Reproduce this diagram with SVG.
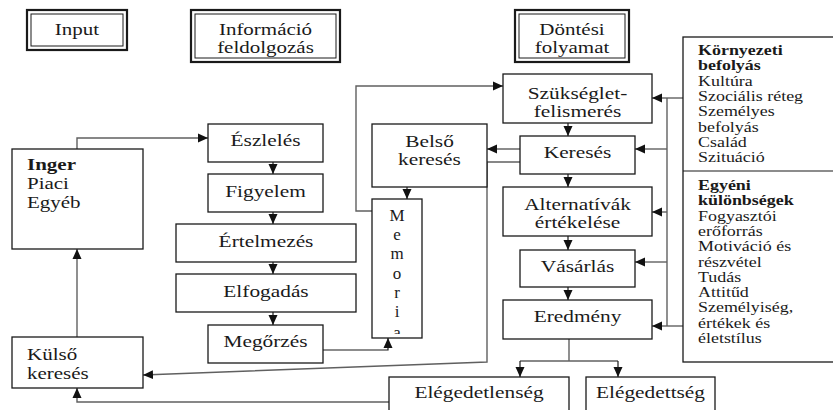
<svg xmlns="http://www.w3.org/2000/svg" width="833" height="410" viewBox="0 0 833 410">
  <style>
    .box { fill: #fff; stroke: #1a1a1a; stroke-width: 1.3; }
    .outer { fill: #fff; stroke: #1a1a1a; stroke-width: 2.2; }
    .inner { fill: none; stroke: #1a1a1a; stroke-width: 1; }
    text { font-family: 'Liberation Serif', 'DejaVu Serif', serif; fill: #1a1a1a; }
    .t { font-size: 17.5px; text-anchor: middle; }
    .tl { font-size: 17.5px; }
    .p { font-size: 13.8px; }
    .b { font-weight: bold; }
    .m { font-size: 17px; text-anchor: middle; }
    .c { fill: none; stroke: #1a1a1a; stroke-width: 1.2; }
    .g { fill: none; stroke: #606060; stroke-width: 1.4; }
  </style>
  <defs>
    <marker id="ah" markerUnits="userSpaceOnUse" markerWidth="10" markerHeight="10" viewBox="0 0 10 10" refX="10" refY="5" orient="auto">
      <path d="M0,0.5 L10,5 L0,9.5 Z" fill="#111"/>
    </marker>
    <clipPath id="memclip">
      <rect x="372" y="199" width="50" height="135"/>
    </clipPath>
  </defs>

  <rect width="833" height="410" fill="#fff"/>

  <!-- column headings (double frames) -->
  <g id="input-head">
    <rect class="outer" x="27" y="10" width="100" height="40"/>
    <rect class="inner" x="31" y="14" width="92" height="32"/>
    <text class="t" transform="translate(77 35) scale(1.2 1)">Input</text>
  </g>
  <g id="info-head">
    <rect class="outer" x="191" y="10" width="149" height="52"/>
    <rect class="inner" x="195" y="14" width="141" height="44"/>
    <text class="t" transform="translate(265.5 35) scale(1.2 1)">Információ</text>
    <text class="t" transform="translate(265.5 53) scale(1.2 1)">feldolgozás</text>
  </g>
  <g id="decision-head">
    <rect class="outer" x="515" y="10" width="114" height="52"/>
    <rect class="inner" x="519" y="14" width="106" height="44"/>
    <text class="t" transform="translate(572 35) scale(1.2 1)">Döntési</text>
    <text class="t" transform="translate(572 53) scale(1.2 1)">folyamat</text>
  </g>

  <!-- connectors -->
  <g id="connectors">
    <!-- perception chain -->
    <polyline class="g" points="77,149 77,138 208,138" marker-end="url(#ah)"/>
    <line class="c" x1="273" y1="162" x2="273" y2="174" marker-end="url(#ah)"/>
    <line class="c" x1="273" y1="212" x2="273" y2="224" marker-end="url(#ah)"/>
    <line class="c" x1="273" y1="262" x2="273" y2="274" marker-end="url(#ah)"/>
    <line class="c" x1="273" y1="312" x2="273" y2="325" marker-end="url(#ah)"/>
    <polyline class="c" points="323,350 388,350 388,338" marker-end="url(#ah)"/>
    <!-- memory feeds need recognition -->
    <polyline class="g" points="372,211 356,211 356,86 503,86" marker-end="url(#ah)"/>
    <line class="c" x1="407" y1="187" x2="407" y2="199" marker-end="url(#ah)"/>
    <!-- decision chain -->
    <line class="c" x1="568" y1="123" x2="568" y2="136" marker-end="url(#ah)"/>
    <line class="c" x1="520" y1="149" x2="487" y2="149" marker-end="url(#ah)"/>
    <polyline class="g" points="520,162 487,162 487,362 143,375" marker-end="url(#ah)"/>
    <line class="c" x1="568" y1="174" x2="568" y2="187" marker-end="url(#ah)"/>
    <line class="c" x1="568" y1="236" x2="568" y2="250" marker-end="url(#ah)"/>
    <line class="c" x1="568" y1="287" x2="568" y2="300" marker-end="url(#ah)"/>
    <!-- outcome split -->
    <line class="g" x1="569" y1="339" x2="569" y2="361"/>
    <line class="g" x1="520" y1="361" x2="618" y2="361"/>
    <line class="c" x1="520" y1="361" x2="520" y2="377" marker-end="url(#ah)"/>
    <line class="c" x1="618" y1="361" x2="618" y2="377" marker-end="url(#ah)"/>
    <!-- dissatisfaction loops back to external search -->
    <polyline class="g" points="389,402 77,402 77,388" marker-end="url(#ah)"/>
    <line class="g" x1="77" y1="337" x2="77" y2="249" marker-end="url(#ah)"/>
    <!-- influences bus -->
    <line class="g" x1="683" y1="98" x2="652" y2="98" marker-end="url(#ah)"/>
    <line class="g" x1="683" y1="326" x2="652" y2="326" marker-end="url(#ah)"/>
    <line class="g" x1="667" y1="98" x2="667" y2="326"/>
    <line class="g" x1="667" y1="149" x2="635" y2="149" marker-end="url(#ah)"/>
    <line class="g" x1="667" y1="212" x2="652" y2="212" marker-end="url(#ah)"/>
    <line class="g" x1="667" y1="262" x2="635" y2="262" marker-end="url(#ah)"/>
  </g>

  <!-- input column -->
  <g id="inger">
    <rect class="box" x="12" y="149" width="131" height="100"/>
    <text class="tl b" transform="translate(27 170) scale(1.2 1)">Inger</text>
    <text class="tl" transform="translate(27 189) scale(1.2 1)">Piaci</text>
    <text class="tl" transform="translate(27 208) scale(1.2 1)">Egyéb</text>
  </g>
  <g id="kulso-kereses">
    <rect class="box" x="12" y="337" width="131" height="51"/>
    <text class="tl" transform="translate(27 360) scale(1.2 1)">Külső</text>
    <text class="tl" transform="translate(27 379) scale(1.2 1)">keresés</text>
  </g>

  <!-- information processing column -->
  <g id="eszleles">
    <rect class="box" x="208" y="124" width="115" height="38"/>
    <text class="t" transform="translate(265.5 146) scale(1.22 1)">Észlelés</text>
  </g>
  <g id="figyelem">
    <rect class="box" x="208" y="174" width="115" height="38"/>
    <text class="t" transform="translate(265.5 197) scale(1.22 1)">Figyelem</text>
  </g>
  <g id="ertelmezes">
    <rect class="box" x="176" y="224" width="180" height="38"/>
    <text class="t" transform="translate(266 247) scale(1.22 1)">Értelmezés</text>
  </g>
  <g id="elfogadas">
    <rect class="box" x="176" y="274" width="180" height="38"/>
    <text class="t" transform="translate(266 297) scale(1.22 1)">Elfogadás</text>
  </g>
  <g id="megorzes">
    <rect class="box" x="208" y="325" width="115" height="38"/>
    <text class="t" transform="translate(265.5 347) scale(1.22 1)">Megőrzés</text>
  </g>
  <g id="belso-kereses">
    <rect class="box" x="372" y="124" width="115" height="63"/>
    <text class="t" transform="translate(429.5 147) scale(1.22 1)">Belső</text>
    <text class="t" transform="translate(429.5 165) scale(1.22 1)">keresés</text>
  </g>
  <g id="memoria">
    <rect class="box" x="372" y="199" width="50" height="139"/>
    <g clip-path="url(#memclip)">
      <text class="m" x="397" y="221">M</text>
      <text class="m" x="397" y="240">e</text>
      <text class="m" x="397" y="259">m</text>
      <text class="m" x="397" y="279">o</text>
      <text class="m" x="397" y="298">r</text>
      <text class="m" x="397" y="317">i</text>
      <text class="m" x="397" y="338">a</text>
    </g>
  </g>

  <!-- decision process column -->
  <g id="szukseglet">
    <rect class="box" x="503" y="74" width="149" height="49"/>
    <text class="t" transform="translate(577.5 99) scale(1.22 1)">Szükséglet-</text>
    <text class="t" transform="translate(577.5 117) scale(1.22 1)">felismerés</text>
  </g>
  <g id="kereses">
    <rect class="box" x="520" y="136" width="115" height="38"/>
    <text class="t" transform="translate(577.5 158) scale(1.22 1)">Keresés</text>
  </g>
  <g id="alternativak">
    <rect class="box" x="503" y="187" width="149" height="49"/>
    <text class="t" transform="translate(577.5 210) scale(1.22 1)">Alternatívák</text>
    <text class="t" transform="translate(577.5 228) scale(1.22 1)">értékelése</text>
  </g>
  <g id="vasarlas">
    <rect class="box" x="520" y="250" width="115" height="37"/>
    <text class="t" transform="translate(577.5 272) scale(1.22 1)">Vásárlás</text>
  </g>
  <g id="eredmeny">
    <rect class="box" x="503" y="300" width="149" height="39"/>
    <text class="t" transform="translate(577.5 322) scale(1.22 1)">Eredmény</text>
  </g>
  <g id="elegedetlenseg">
    <rect class="box" x="389" y="377" width="180" height="40"/>
    <text class="t" transform="translate(479 398) scale(1.22 1)">Elégedetlenség</text>
  </g>
  <g id="elegedettseg">
    <rect class="box" x="586" y="377" width="129" height="40"/>
    <text class="t" transform="translate(650.5 398) scale(1.22 1)">Elégedettség</text>
  </g>

  <!-- influences panel -->
  <g id="befolyasok">
    <rect class="box" x="683" y="37" width="160" height="325"/>
    <line class="c" x1="683" y1="171" x2="833" y2="171"/>
    <text class="p b" transform="translate(698 55) scale(1.3 1)">Környezeti</text>
    <text class="p b" transform="translate(698 70.3) scale(1.3 1)">befolyás</text>
    <text class="p" transform="translate(698 85.6) scale(1.3 1)">Kultúra</text>
    <text class="p" transform="translate(698 100.9) scale(1.3 1)">Szociális réteg</text>
    <text class="p" transform="translate(698 116.2) scale(1.3 1)">Személyes</text>
    <text class="p" transform="translate(698 131.5) scale(1.3 1)">befolyás</text>
    <text class="p" transform="translate(698 146.8) scale(1.3 1)">Család</text>
    <text class="p" transform="translate(698 162.1) scale(1.3 1)">Szituáció</text>
    <text class="p b" transform="translate(698 190) scale(1.3 1)">Egyéni</text>
    <text class="p b" transform="translate(698 205.3) scale(1.3 1)">különbségek</text>
    <text class="p" transform="translate(698 220.6) scale(1.3 1)">Fogyasztói</text>
    <text class="p" transform="translate(698 235.9) scale(1.3 1)">erőforrás</text>
    <text class="p" transform="translate(698 251.2) scale(1.3 1)">Motiváció és</text>
    <text class="p" transform="translate(698 266.5) scale(1.3 1)">részvétel</text>
    <text class="p" transform="translate(698 281.8) scale(1.3 1)">Tudás</text>
    <text class="p" transform="translate(698 297.1) scale(1.3 1)">Attitűd</text>
    <text class="p" transform="translate(698 312.4) scale(1.3 1)">Személyiség,</text>
    <text class="p" transform="translate(698 327.7) scale(1.3 1)">értékek és</text>
    <text class="p" transform="translate(698 343) scale(1.3 1)">életstílus</text>
  </g>
</svg>
